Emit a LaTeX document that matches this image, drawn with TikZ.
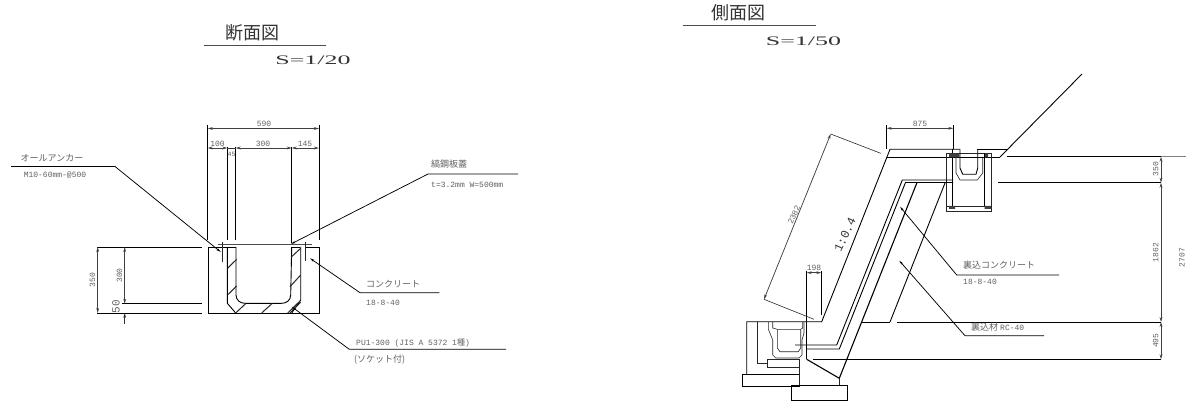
\documentclass[tikz,border=0pt]{standalone}
\usepackage{fontspec}
\setmainfont{Liberation Serif}
\setmonofont{Liberation Mono}
\newfontfamily\jp{Noto Sans CJK JP}
\usetikzlibrary{arrows.meta}
\definecolor{gtxt}{gray}{0.38}
\tikzset{
  x=1pt,y=-1pt,
  ln/.style={line width=0.9pt,black},
  thn/.style={line width=0.6pt,black!85},
  dim/.style={line width=0.75pt,black!75,{Stealth[length=5pt,width=2.8pt]}-{Stealth[length=5pt,width=2.8pt]}},
  lead/.style={line width=0.75pt,black,{Stealth[length=4.5pt,width=2.2pt]}-},
  dl/.style={inner sep=0pt,font=\ttfamily\fontsize{8}{8}\selectfont,text=gtxt},
  jl/.style={inner sep=0pt,font=\jp\fontsize{9}{9}\selectfont,text=gtxt},
  titlet/.style={inner sep=0pt,font=\jp\fontsize{18}{18}\selectfont,text=black!80},
  scalet/.style={inner sep=0pt,font=\fontsize{13}{13}\selectfont,xscale=2.0,text=black!80},
}
\begin{document}
\begin{tikzpicture}
\useasboundingbox (0,0) rectangle (1186,406);
% ---- left titles
\node[titlet] (t1) at (252,33) {断面図};
\draw[line width=0.9pt,black!70] (204,45) -- (326,45);
\node[scalet] (s1) at (313,60) {S=1/20};
% ---- left drawing
\draw[ln] (207.7,125) -- (207.7,240) (227.3,147) -- (227.3,240) (235.7,147) -- (235.7,240) (291.7,147) -- (291.7,243) (319,125) -- (319,240);
\draw[dim] (207.7,128.5) -- (319,128.5);
\draw[dim] (207.7,148) -- (227.3,148);
\draw[dim] (235.7,148) -- (291.7,148);
\draw[dim] (291.7,148) -- (319,148);
\draw[line width=0.6pt,black!80] (227.3,148) -- (235.7,148);
\node[dl] at (264,123.5) {590};
\node[dl] at (217.5,144) {100};
\node[dl] at (263,144) {300};
\node[dl] at (305,144) {145};
\node[dl,font=\ttfamily\fontsize{6.5}{7}\selectfont] at (231.5,154) {45};
% box
\draw[ln] (208,247) -- (208,313) -- (319,313) -- (319,247) -- (305,247);
\draw[ln] (208,247) -- (236,247) (292,247) -- (300,247);
\draw[line width=0.9pt,black!70] (217.7,244) -- (311.7,244);
\draw[thn] (222.3,242) -- (222.3,261.7) (305.3,242) -- (305.3,261);
% U channel
\draw[ln] (227.3,247) -- (227.3,303.3) -- (235.7,313);
\draw[ln] (300.7,247) -- (300.7,300) -- (291.7,313);
\draw[ln] (236,247) -- (236,295) .. controls (236,300) and (240,303.3) .. (245,303.3) -- (281.7,303.3) .. controls (287,303.3) and (290.5,300) .. (290.7,295) -- (291.7,247);
% hatching
\draw[line width=1pt,black!85]
 (227.5,268.3) -- (236.7,259.3) (227.5,295) -- (236.7,286)
 (235.7,313) -- (246,303.3) (261.7,313) -- (272.3,303.3)
 (287.7,313) -- (300,301) (290,313) -- (300.7,302.3)
 (290,286.7) -- (300.7,275) (291,257.3) -- (300.7,248.3);
% ext + dims
\draw[ln] (97,247) -- (202,247) (122,303.7) -- (202,303.7) (97,313) -- (202,313);
\draw[dim] (97.7,247) -- (97.7,313);
\draw[dim] (124.7,247) -- (124.7,303.7);
\draw[line width=0.6pt,black!80,{Stealth[length=5pt,width=2.8pt]}-] (124.7,313) -- (124.7,324);
\node[dl,rotate=90] at (92.5,280) {350};
\node[dl,rotate=90] at (119.5,275.5) {300};
\node[dl,rotate=90,font=\ttfamily\fontsize{11}{11}\selectfont] at (116,306.5) {50};
% leaders
\coordinate (la1) at (220.7,252);
\coordinate (la2) at (115,166.5);
\coordinate (la3) at (11,166.5);
\draw[lead] (la1) -- (la2) -- (la3);
\node[jl] at (52,158.5) {オールアンカー};
\node[dl] at (55,175) {M10-60mm-@500};
\coordinate (lb1) at (291,244);
\coordinate (lb2) at (428,174);
\coordinate (lb3) at (518,174);
\draw[lead] (lb1) -- (lb2) -- (lb3);
\node[jl,anchor=west] at (431,164) {縞鋼板蓋};
\node[dl,anchor=west] at (431,185) {t=3.2mm W=500mm};
\coordinate (lc1) at (310,258.3);
\coordinate (lc2) at (360,292.7);
\coordinate (lc3) at (439.3,292.7);
\draw[lead] (lc1) -- (lc2) -- (lc3);
\node[jl,anchor=west] at (366,284) {コンクリート};
\node[dl,anchor=west] at (366,303) {18-8-40};
\coordinate (ld1) at (291.7,306.7);
\coordinate (ld2) at (349.3,349.3);
\coordinate (ld3) at (506,349.3);
\draw[lead] (ld1) -- (ld2) -- (ld3);
\node[dl,anchor=west] at (356,343) {PU1-300 (JIS A 5372 1{\jp 種})};
\node[jl,anchor=west] at (354,360) {(ソケット付)};
% ---- right titles
\node[titlet] (t2) at (738,12.5) {側面図};
\draw[line width=1pt,black!70] (683,25.5) -- (816,25.5);
\node[scalet] (s2) at (803.5,41) {S=1/50};
% ---- right drawing: ground
\draw[ln] (1082,74) -- (1000,157);
\draw[ln] (960,149.3) -- (890,149.3) -- (821.7,321.7) -- (746.7,321.7) -- (746.7,374.7);
\draw[ln] (886.7,157.3) -- (1000,157.3);
\draw[ln] (977,149.3) -- (1006.7,149.3);
\draw[ln] (1006.7,156.7) -- (1161,156.7);
\draw[line width=0.5pt,black!50] (1161,156.7) -- (1186,156.7);
\draw[ln] (998.3,182.7) -- (1161,182.7);
\draw[ln] (861.7,322) -- (890,322) (896.7,322) -- (1161,322);
\draw[ln] (812.7,359.3) -- (1161,359.3);
% right channel
\draw[thn] (946,153.3) rectangle (991,211);
\draw[thn] (946,206) -- (991,206);
\draw[ln] (952.7,149) -- (952.7,206) (984.3,153.3) -- (984.3,206);
\fill[black!75] (949,153.3) rectangle (959.3,157.3) (985,153.3) rectangle (988,157.3) (949,206) rectangle (955,209) (984.5,206) rectangle (991,209);
\draw[ln] (960,149.3) -- (960,168) -- (962.7,174.3) -- (976,174.3) -- (977.7,168) -- (977.7,149.3);
\draw[thn] (956,157) -- (956,173) -- (960,180) -- (977.3,180) -- (982.7,173) -- (982.7,157);
% slope layers
\draw[ln] (953,180) -- (902.3,180) -- (836.7,345) -- (795,345);
\draw[ln] (953,182.5) -- (905.5,182.5) -- (839.3,349) -- (806.7,349);
\draw[line width=1.1pt,black] (917,182.5) -- (839.3,378.3) -- (806.7,359.3);
\draw[ln] (945,183) -- (890,322);
% left channel + footing
\draw[thn] (757.7,322) -- (757.7,363.3) -- (767.7,363.3);
\draw[thn] (767.7,359.3) rectangle (799,367.3);
\draw[ln] (806.7,322) -- (806.7,359.3);
\draw[ln] (742.7,374.7) rectangle (799,386);
\draw[thn] (799,359.3) -- (799,385.7) (839.3,378.3) -- (839.3,385.7);
\draw[ln] (791,385.7) rectangle (847.7,400);
\draw[thn] (768.3,322) -- (768.3,329) -- (772.7,340) -- (772.7,355) -- (775.7,358) -- (799,358) -- (802,355) -- (802,340) -- (804,333) -- (804,322);
\draw[thn] (772.7,322) -- (772.7,328) -- (777.3,329.3) -- (800.7,329.3) -- (802.7,328) -- (802.7,322);
\draw[thn] (777.3,329.3) -- (777.3,348) -- (780,351.7) -- (798.3,351.7) -- (800.7,348) -- (800.7,329.3);
% 198 / 875 / 2382
\draw[ln] (806.7,270.7) -- (806.7,321.7) (821.3,270.7) -- (821.3,315);
\draw[dim] (806.7,272.7) -- (821.3,272.7);
\node[dl] at (814,267.5) {198};
\draw[ln] (886.7,125) -- (886.7,149) (953.3,125) -- (953.3,149);
\draw[dim] (886.7,128.3) -- (953.3,128.3);
\node[dl] at (920,123.5) {875};
\coordinate (d1) at (764,299.3);
\coordinate (d2) at (830.7,134);
\draw[thn] (814,319.3) -- (d1);
\draw[thn] (880.7,153.3) -- (d2);
\draw[dim] (d1) -- (d2);
\node[dl,rotate=65] at (794,215) {2382};
\node[inner sep=0pt,font=\ttfamily\fontsize{12}{12}\selectfont,rotate=65,text=black!80] at (845,235) {1:0.4};
% right dims
\draw[dim] (1161,156.7) -- (1161,182.7);
\draw[dim] (1161,182.7) -- (1161,322);
\draw[dim] (1161,322) -- (1161,359.3);
\node[dl,rotate=90] at (1155.7,169.3) {350};
\node[dl,rotate=90] at (1155.7,252.7) {1862};
\node[dl,rotate=90] at (1182,257.7) {2707};
\node[dl,rotate=90] at (1155.7,340.7) {495};
% right leaders
\coordinate (le1) at (900,206.7);
\coordinate (le2) at (956.7,275);
\coordinate (le3) at (1059,275);
\draw[lead] (le1) -- (le2) -- (le3);
\node[jl,anchor=west] at (963,265.5) {裏込コンクリート};
\node[dl,anchor=west] at (963,282) {18-8-40};
\coordinate (lf1) at (899.3,260.7);
\coordinate (lf2) at (965,335.7);
\coordinate (lf3) at (1044,335.7);
\draw[lead] (lf1) -- (lf2) -- (lf3);
\node[jl,anchor=west] at (971,326.7) {裏込材 {\ttfamily\fontsize{8}{8}\selectfont RC-40}};
\end{tikzpicture}
\end{document}
